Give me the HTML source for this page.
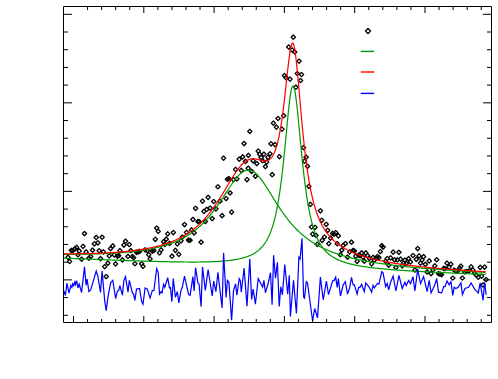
<!DOCTYPE html>
<html><head><meta charset="utf-8"><title>fit</title>
<style>html,body{margin:0;padding:0;background:#fff;font-family:"Liberation Sans",sans-serif;}svg{display:block}</style>
</head><body>
<svg width="498" height="379" viewBox="0 0 498 379">
<rect x="0" y="0" width="498" height="379" fill="#fff"/>
<defs><clipPath id="c"><rect x="63.5" y="6.5" width="428" height="316"/></clipPath></defs>
<g clip-path="url(#c)">
<path d="M70.65 250.64 l2.15 -2.15 l2.15 2.15 l-2.15 2.15 z M72.65 248.82 l2.15 -2.15 l2.15 2.15 l-2.15 2.15 z M74.45 247.40 l2.15 -2.15 l2.15 2.15 l-2.15 2.15 z M75.85 254.78 l2.15 -2.15 l2.15 2.15 l-2.15 2.15 z M77.05 250.96 l2.15 -2.15 l2.15 2.15 l-2.15 2.15 z M79.45 259.23 l2.15 -2.15 l2.15 2.15 l-2.15 2.15 z M80.90 246.40 l2.15 -2.15 l2.15 2.15 l-2.15 2.15 z M82.35 233.57 l2.15 -2.15 l2.15 2.15 l-2.15 2.15 z M83.95 251.94 l2.15 -2.15 l2.15 2.15 l-2.15 2.15 z M86.75 258.17 l2.15 -2.15 l2.15 2.15 l-2.15 2.15 z M88.55 256.52 l2.15 -2.15 l2.15 2.15 l-2.15 2.15 z M90.38 250.17 l2.15 -2.15 l2.15 2.15 l-2.15 2.15 z M92.22 243.81 l2.15 -2.15 l2.15 2.15 l-2.15 2.15 z M94.05 237.45 l2.15 -2.15 l2.15 2.15 l-2.15 2.15 z M95.75 242.79 l2.15 -2.15 l2.15 2.15 l-2.15 2.15 z M97.05 250.74 l2.15 -2.15 l2.15 2.15 l-2.15 2.15 z M98.35 258.68 l2.15 -2.15 l2.15 2.15 l-2.15 2.15 z M99.95 237.22 l2.15 -2.15 l2.15 2.15 l-2.15 2.15 z M101.25 251.91 l2.15 -2.15 l2.15 2.15 l-2.15 2.15 z M102.55 266.59 l2.15 -2.15 l2.15 2.15 l-2.15 2.15 z M104.05 276.52 l2.15 -2.15 l2.15 2.15 l-2.15 2.15 z M105.75 263.13 l2.15 -2.15 l2.15 2.15 l-2.15 2.15 z M107.10 255.85 l2.15 -2.15 l2.15 2.15 l-2.15 2.15 z M108.45 248.57 l2.15 -2.15 l2.15 2.15 l-2.15 2.15 z M110.65 245.93 l2.15 -2.15 l2.15 2.15 l-2.15 2.15 z M112.05 254.89 l2.15 -2.15 l2.15 2.15 l-2.15 2.15 z M113.45 263.84 l2.15 -2.15 l2.15 2.15 l-2.15 2.15 z M115.25 256.21 l2.15 -2.15 l2.15 2.15 l-2.15 2.15 z M116.55 255.71 l2.15 -2.15 l2.15 2.15 l-2.15 2.15 z M117.75 250.61 l2.15 -2.15 l2.15 2.15 l-2.15 2.15 z M120.25 259.90 l2.15 -2.15 l2.15 2.15 l-2.15 2.15 z M121.75 245.06 l2.15 -2.15 l2.15 2.15 l-2.15 2.15 z M123.35 241.21 l2.15 -2.15 l2.15 2.15 l-2.15 2.15 z M125.85 256.46 l2.15 -2.15 l2.15 2.15 l-2.15 2.15 z M127.15 244.52 l2.15 -2.15 l2.15 2.15 l-2.15 2.15 z M128.70 250.59 l2.15 -2.15 l2.15 2.15 l-2.15 2.15 z M130.25 256.66 l2.15 -2.15 l2.15 2.15 l-2.15 2.15 z M131.45 257.71 l2.15 -2.15 l2.15 2.15 l-2.15 2.15 z M132.75 263.75 l2.15 -2.15 l2.15 2.15 l-2.15 2.15 z M134.35 252.33 l2.15 -2.15 l2.15 2.15 l-2.15 2.15 z M135.90 251.82 l2.15 -2.15 l2.15 2.15 l-2.15 2.15 z M137.45 251.29 l2.15 -2.15 l2.15 2.15 l-2.15 2.15 z M139.45 263.78 l2.15 -2.15 l2.15 2.15 l-2.15 2.15 z M140.85 266.35 l2.15 -2.15 l2.15 2.15 l-2.15 2.15 z M142.95 249.79 l2.15 -2.15 l2.15 2.15 l-2.15 2.15 z M145.15 250.59 l2.15 -2.15 l2.15 2.15 l-2.15 2.15 z M146.55 254.72 l2.15 -2.15 l2.15 2.15 l-2.15 2.15 z M147.95 258.84 l2.15 -2.15 l2.15 2.15 l-2.15 2.15 z M150.15 251.07 l2.15 -2.15 l2.15 2.15 l-2.15 2.15 z M151.75 250.51 l2.15 -2.15 l2.15 2.15 l-2.15 2.15 z M153.15 239.29 l2.15 -2.15 l2.15 2.15 l-2.15 2.15 z M154.55 228.04 l2.15 -2.15 l2.15 2.15 l-2.15 2.15 z M156.05 231.36 l2.15 -2.15 l2.15 2.15 l-2.15 2.15 z M157.35 252.81 l2.15 -2.15 l2.15 2.15 l-2.15 2.15 z M158.95 249.87 l2.15 -2.15 l2.15 2.15 l-2.15 2.15 z M161.45 241.72 l2.15 -2.15 l2.15 2.15 l-2.15 2.15 z M162.65 244.45 l2.15 -2.15 l2.15 2.15 l-2.15 2.15 z M164.10 239.17 l2.15 -2.15 l2.15 2.15 l-2.15 2.15 z M165.55 233.88 l2.15 -2.15 l2.15 2.15 l-2.15 2.15 z M167.35 243.43 l2.15 -2.15 l2.15 2.15 l-2.15 2.15 z M169.75 256.21 l2.15 -2.15 l2.15 2.15 l-2.15 2.15 z M171.15 232.54 l2.15 -2.15 l2.15 2.15 l-2.15 2.15 z M173.25 250.34 l2.15 -2.15 l2.15 2.15 l-2.15 2.15 z M175.15 243.87 l2.15 -2.15 l2.15 2.15 l-2.15 2.15 z M176.65 254.34 l2.15 -2.15 l2.15 2.15 l-2.15 2.15 z M178.85 240.82 l2.15 -2.15 l2.15 2.15 l-2.15 2.15 z M180.15 237.02 l2.15 -2.15 l2.15 2.15 l-2.15 2.15 z M182.35 224.56 l2.15 -2.15 l2.15 2.15 l-2.15 2.15 z M184.35 232.34 l2.15 -2.15 l2.15 2.15 l-2.15 2.15 z M186.35 240.04 l2.15 -2.15 l2.15 2.15 l-2.15 2.15 z M187.95 240.24 l2.15 -2.15 l2.15 2.15 l-2.15 2.15 z M189.35 229.88 l2.15 -2.15 l2.15 2.15 l-2.15 2.15 z M190.75 219.47 l2.15 -2.15 l2.15 2.15 l-2.15 2.15 z M191.95 232.83 l2.15 -2.15 l2.15 2.15 l-2.15 2.15 z M193.45 208.30 l2.15 -2.15 l2.15 2.15 l-2.15 2.15 z M195.75 221.50 l2.15 -2.15 l2.15 2.15 l-2.15 2.15 z M196.95 221.69 l2.15 -2.15 l2.15 2.15 l-2.15 2.15 z M198.95 242.17 l2.15 -2.15 l2.15 2.15 l-2.15 2.15 z M200.35 201.15 l2.15 -2.15 l2.15 2.15 l-2.15 2.15 z M201.75 211.36 l2.15 -2.15 l2.15 2.15 l-2.15 2.15 z M203.15 221.52 l2.15 -2.15 l2.15 2.15 l-2.15 2.15 z M204.55 209.46 l2.15 -2.15 l2.15 2.15 l-2.15 2.15 z M205.95 197.34 l2.15 -2.15 l2.15 2.15 l-2.15 2.15 z M208.00 208.03 l2.15 -2.15 l2.15 2.15 l-2.15 2.15 z M210.05 218.57 l2.15 -2.15 l2.15 2.15 l-2.15 2.15 z M211.55 201.51 l2.15 -2.15 l2.15 2.15 l-2.15 2.15 z M213.75 208.94 l2.15 -2.15 l2.15 2.15 l-2.15 2.15 z M215.75 186.74 l2.15 -2.15 l2.15 2.15 l-2.15 2.15 z M217.85 201.26 l2.15 -2.15 l2.15 2.15 l-2.15 2.15 z M219.95 215.68 l2.15 -2.15 l2.15 2.15 l-2.15 2.15 z M221.45 158.11 l2.15 -2.15 l2.15 2.15 l-2.15 2.15 z M223.95 198.53 l2.15 -2.15 l2.15 2.15 l-2.15 2.15 z M225.25 179.24 l2.15 -2.15 l2.15 2.15 l-2.15 2.15 z M226.75 178.62 l2.15 -2.15 l2.15 2.15 l-2.15 2.15 z M227.95 192.92 l2.15 -2.15 l2.15 2.15 l-2.15 2.15 z M229.45 212.15 l2.15 -2.15 l2.15 2.15 l-2.15 2.15 z M231.35 179.70 l2.15 -2.15 l2.15 2.15 l-2.15 2.15 z M233.45 169.39 l2.15 -2.15 l2.15 2.15 l-2.15 2.15 z M234.75 178.91 l2.15 -2.15 l2.15 2.15 l-2.15 2.15 z M237.05 159.14 l2.15 -2.15 l2.15 2.15 l-2.15 2.15 z M239.15 170.37 l2.15 -2.15 l2.15 2.15 l-2.15 2.15 z M240.55 156.88 l2.15 -2.15 l2.15 2.15 l-2.15 2.15 z M241.95 143.57 l2.15 -2.15 l2.15 2.15 l-2.15 2.15 z M243.40 161.45 l2.15 -2.15 l2.15 2.15 l-2.15 2.15 z M244.85 179.55 l2.15 -2.15 l2.15 2.15 l-2.15 2.15 z M246.25 155.37 l2.15 -2.15 l2.15 2.15 l-2.15 2.15 z M247.65 131.37 l2.15 -2.15 l2.15 2.15 l-2.15 2.15 z M249.45 171.31 l2.15 -2.15 l2.15 2.15 l-2.15 2.15 z M250.95 160.81 l2.15 -2.15 l2.15 2.15 l-2.15 2.15 z M253.25 176.17 l2.15 -2.15 l2.15 2.15 l-2.15 2.15 z M254.65 163.57 l2.15 -2.15 l2.15 2.15 l-2.15 2.15 z M256.05 151.04 l2.15 -2.15 l2.15 2.15 l-2.15 2.15 z M257.52 154.28 l2.15 -2.15 l2.15 2.15 l-2.15 2.15 z M258.98 157.52 l2.15 -2.15 l2.15 2.15 l-2.15 2.15 z M260.45 160.71 l2.15 -2.15 l2.15 2.15 l-2.15 2.15 z M261.75 154.20 l2.15 -2.15 l2.15 2.15 l-2.15 2.15 z M263.25 166.66 l2.15 -2.15 l2.15 2.15 l-2.15 2.15 z M264.55 162.11 l2.15 -2.15 l2.15 2.15 l-2.15 2.15 z M265.85 157.31 l2.15 -2.15 l2.15 2.15 l-2.15 2.15 z M328.40 238.13 l2.15 -2.15 l2.15 2.15 l-2.15 2.15 z M330.45 233.40 l2.15 -2.15 l2.15 2.15 l-2.15 2.15 z M331.95 234.21 l2.15 -2.15 l2.15 2.15 l-2.15 2.15 z M333.55 232.51 l2.15 -2.15 l2.15 2.15 l-2.15 2.15 z M335.05 243.72 l2.15 -2.15 l2.15 2.15 l-2.15 2.15 z M336.25 235.84 l2.15 -2.15 l2.15 2.15 l-2.15 2.15 z M338.25 254.76 l2.15 -2.15 l2.15 2.15 l-2.15 2.15 z M339.65 250.08 l2.15 -2.15 l2.15 2.15 l-2.15 2.15 z M341.05 245.35 l2.15 -2.15 l2.15 2.15 l-2.15 2.15 z M343.25 243.53 l2.15 -2.15 l2.15 2.15 l-2.15 2.15 z M345.35 257.05 l2.15 -2.15 l2.15 2.15 l-2.15 2.15 z M347.45 251.90 l2.15 -2.15 l2.15 2.15 l-2.15 2.15 z M349.35 242.18 l2.15 -2.15 l2.15 2.15 l-2.15 2.15 z M350.95 250.37 l2.15 -2.15 l2.15 2.15 l-2.15 2.15 z M352.25 250.92 l2.15 -2.15 l2.15 2.15 l-2.15 2.15 z M353.60 256.11 l2.15 -2.15 l2.15 2.15 l-2.15 2.15 z M354.95 261.27 l2.15 -2.15 l2.15 2.15 l-2.15 2.15 z M356.55 255.06 l2.15 -2.15 l2.15 2.15 l-2.15 2.15 z M357.85 255.52 l2.15 -2.15 l2.15 2.15 l-2.15 2.15 z M359.45 252.95 l2.15 -2.15 l2.15 2.15 l-2.15 2.15 z M360.80 257.09 l2.15 -2.15 l2.15 2.15 l-2.15 2.15 z M362.15 261.21 l2.15 -2.15 l2.15 2.15 l-2.15 2.15 z M363.65 252.96 l2.15 -2.15 l2.15 2.15 l-2.15 2.15 z M365.40 255.67 l2.15 -2.15 l2.15 2.15 l-2.15 2.15 z M367.15 258.35 l2.15 -2.15 l2.15 2.15 l-2.15 2.15 z M369.45 263.85 l2.15 -2.15 l2.15 2.15 l-2.15 2.15 z M370.95 257.43 l2.15 -2.15 l2.15 2.15 l-2.15 2.15 z M372.15 260.22 l2.15 -2.15 l2.15 2.15 l-2.15 2.15 z M373.70 258.38 l2.15 -2.15 l2.15 2.15 l-2.15 2.15 z M375.25 256.53 l2.15 -2.15 l2.15 2.15 l-2.15 2.15 z M376.75 257.56 l2.15 -2.15 l2.15 2.15 l-2.15 2.15 z M378.20 251.62 l2.15 -2.15 l2.15 2.15 l-2.15 2.15 z M379.65 245.67 l2.15 -2.15 l2.15 2.15 l-2.15 2.15 z M380.95 247.03 l2.15 -2.15 l2.15 2.15 l-2.15 2.15 z M383.45 261.31 l2.15 -2.15 l2.15 2.15 l-2.15 2.15 z M385.05 258.51 l2.15 -2.15 l2.15 2.15 l-2.15 2.15 z M386.55 265.08 l2.15 -2.15 l2.15 2.15 l-2.15 2.15 z M388.45 257.91 l2.15 -2.15 l2.15 2.15 l-2.15 2.15 z M390.95 252.13 l2.15 -2.15 l2.15 2.15 l-2.15 2.15 z M392.35 259.81 l2.15 -2.15 l2.15 2.15 l-2.15 2.15 z M393.75 267.48 l2.15 -2.15 l2.15 2.15 l-2.15 2.15 z M395.25 259.91 l2.15 -2.15 l2.15 2.15 l-2.15 2.15 z M396.75 252.33 l2.15 -2.15 l2.15 2.15 l-2.15 2.15 z M398.40 259.12 l2.15 -2.15 l2.15 2.15 l-2.15 2.15 z M400.05 265.91 l2.15 -2.15 l2.15 2.15 l-2.15 2.15 z M401.40 263.00 l2.15 -2.15 l2.15 2.15 l-2.15 2.15 z M402.75 260.08 l2.15 -2.15 l2.15 2.15 l-2.15 2.15 z M404.05 263.35 l2.15 -2.15 l2.15 2.15 l-2.15 2.15 z M406.45 258.67 l2.15 -2.15 l2.15 2.15 l-2.15 2.15 z M408.35 262.01 l2.15 -2.15 l2.15 2.15 l-2.15 2.15 z M410.85 255.51 l2.15 -2.15 l2.15 2.15 l-2.15 2.15 z M412.75 270.03 l2.15 -2.15 l2.15 2.15 l-2.15 2.15 z M414.15 259.30 l2.15 -2.15 l2.15 2.15 l-2.15 2.15 z M415.55 248.56 l2.15 -2.15 l2.15 2.15 l-2.15 2.15 z M416.95 255.86 l2.15 -2.15 l2.15 2.15 l-2.15 2.15 z M418.35 263.16 l2.15 -2.15 l2.15 2.15 l-2.15 2.15 z M419.90 259.93 l2.15 -2.15 l2.15 2.15 l-2.15 2.15 z M421.45 256.69 l2.15 -2.15 l2.15 2.15 l-2.15 2.15 z M423.20 264.32 l2.15 -2.15 l2.15 2.15 l-2.15 2.15 z M424.95 271.95 l2.15 -2.15 l2.15 2.15 l-2.15 2.15 z M427.05 260.96 l2.15 -2.15 l2.15 2.15 l-2.15 2.15 z M428.95 273.64 l2.15 -2.15 l2.15 2.15 l-2.15 2.15 z M430.80 269.77 l2.15 -2.15 l2.15 2.15 l-2.15 2.15 z M432.65 265.89 l2.15 -2.15 l2.15 2.15 l-2.15 2.15 z M434.55 259.76 l2.15 -2.15 l2.15 2.15 l-2.15 2.15 z M436.35 273.62 l2.15 -2.15 l2.15 2.15 l-2.15 2.15 z M437.90 274.10 l2.15 -2.15 l2.15 2.15 l-2.15 2.15 z M439.45 274.59 l2.15 -2.15 l2.15 2.15 l-2.15 2.15 z M441.55 268.46 l2.15 -2.15 l2.15 2.15 l-2.15 2.15 z M442.85 268.57 l2.15 -2.15 l2.15 2.15 l-2.15 2.15 z M444.85 263.14 l2.15 -2.15 l2.15 2.15 l-2.15 2.15 z M446.95 267.10 l2.15 -2.15 l2.15 2.15 l-2.15 2.15 z M448.75 264.15 l2.15 -2.15 l2.15 2.15 l-2.15 2.15 z M450.65 277.99 l2.15 -2.15 l2.15 2.15 l-2.15 2.15 z M451.95 269.99 l2.15 -2.15 l2.15 2.15 l-2.15 2.15 z M453.75 271.33 l2.15 -2.15 l2.15 2.15 l-2.15 2.15 z M456.05 270.30 l2.15 -2.15 l2.15 2.15 l-2.15 2.15 z M457.40 268.19 l2.15 -2.15 l2.15 2.15 l-2.15 2.15 z M458.75 266.09 l2.15 -2.15 l2.15 2.15 l-2.15 2.15 z M460.25 278.00 l2.15 -2.15 l2.15 2.15 l-2.15 2.15 z M462.75 271.97 l2.15 -2.15 l2.15 2.15 l-2.15 2.15 z M464.60 271.50 l2.15 -2.15 l2.15 2.15 l-2.15 2.15 z M466.45 271.02 l2.15 -2.15 l2.15 2.15 l-2.15 2.15 z M468.95 266.79 l2.15 -2.15 l2.15 2.15 l-2.15 2.15 z M470.70 270.01 l2.15 -2.15 l2.15 2.15 l-2.15 2.15 z M472.45 273.22 l2.15 -2.15 l2.15 2.15 l-2.15 2.15 z M474.30 275.24 l2.15 -2.15 l2.15 2.15 l-2.15 2.15 z M476.15 277.25 l2.15 -2.15 l2.15 2.15 l-2.15 2.15 z M478.05 267.37 l2.15 -2.15 l2.15 2.15 l-2.15 2.15 z M479.50 276.16 l2.15 -2.15 l2.15 2.15 l-2.15 2.15 z M480.95 284.95 l2.15 -2.15 l2.15 2.15 l-2.15 2.15 z M482.45 267.04 l2.15 -2.15 l2.15 2.15 l-2.15 2.15 z M483.95 279.53 l2.15 -2.15 l2.15 2.15 l-2.15 2.15 z M291.15 37.20 l2.15 -2.15 l2.15 2.15 l-2.15 2.15 z M286.55 47.00 l2.15 -2.15 l2.15 2.15 l-2.15 2.15 z M289.95 50.00 l2.15 -2.15 l2.15 2.15 l-2.15 2.15 z M292.55 52.00 l2.15 -2.15 l2.15 2.15 l-2.15 2.15 z M296.95 61.10 l2.15 -2.15 l2.15 2.15 l-2.15 2.15 z M282.35 75.50 l2.15 -2.15 l2.15 2.15 l-2.15 2.15 z M283.85 77.70 l2.15 -2.15 l2.15 2.15 l-2.15 2.15 z M287.85 79.10 l2.15 -2.15 l2.15 2.15 l-2.15 2.15 z M295.15 73.50 l2.15 -2.15 l2.15 2.15 l-2.15 2.15 z M299.35 74.50 l2.15 -2.15 l2.15 2.15 l-2.15 2.15 z M298.35 80.50 l2.15 -2.15 l2.15 2.15 l-2.15 2.15 z M293.75 87.20 l2.15 -2.15 l2.15 2.15 l-2.15 2.15 z M281.55 115.70 l2.15 -2.15 l2.15 2.15 l-2.15 2.15 z M275.85 118.50 l2.15 -2.15 l2.15 2.15 l-2.15 2.15 z M271.25 123.10 l2.15 -2.15 l2.15 2.15 l-2.15 2.15 z M274.25 127.10 l2.15 -2.15 l2.15 2.15 l-2.15 2.15 z M279.85 129.10 l2.15 -2.15 l2.15 2.15 l-2.15 2.15 z M268.85 143.80 l2.15 -2.15 l2.15 2.15 l-2.15 2.15 z M272.85 144.60 l2.15 -2.15 l2.15 2.15 l-2.15 2.15 z M267.85 153.80 l2.15 -2.15 l2.15 2.15 l-2.15 2.15 z M277.25 156.60 l2.15 -2.15 l2.15 2.15 l-2.15 2.15 z M270.05 174.70 l2.15 -2.15 l2.15 2.15 l-2.15 2.15 z M301.35 147.60 l2.15 -2.15 l2.15 2.15 l-2.15 2.15 z M303.95 157.20 l2.15 -2.15 l2.15 2.15 l-2.15 2.15 z M302.35 161.20 l2.15 -2.15 l2.15 2.15 l-2.15 2.15 z M305.35 166.30 l2.15 -2.15 l2.15 2.15 l-2.15 2.15 z M306.75 186.40 l2.15 -2.15 l2.15 2.15 l-2.15 2.15 z M308.25 204.40 l2.15 -2.15 l2.15 2.15 l-2.15 2.15 z M318.25 210.80 l2.15 -2.15 l2.15 2.15 l-2.15 2.15 z M319.55 220.30 l2.15 -2.15 l2.15 2.15 l-2.15 2.15 z M324.05 224.30 l2.15 -2.15 l2.15 2.15 l-2.15 2.15 z M309.35 227.00 l2.15 -2.15 l2.15 2.15 l-2.15 2.15 z M312.95 227.40 l2.15 -2.15 l2.15 2.15 l-2.15 2.15 z M325.55 230.30 l2.15 -2.15 l2.15 2.15 l-2.15 2.15 z M310.45 234.10 l2.15 -2.15 l2.15 2.15 l-2.15 2.15 z M313.85 235.40 l2.15 -2.15 l2.15 2.15 l-2.15 2.15 z M322.25 237.00 l2.15 -2.15 l2.15 2.15 l-2.15 2.15 z M320.05 240.30 l2.15 -2.15 l2.15 2.15 l-2.15 2.15 z M326.65 243.60 l2.15 -2.15 l2.15 2.15 l-2.15 2.15 z M315.15 244.30 l2.15 -2.15 l2.15 2.15 l-2.15 2.15 z M65.85 257.30 l2.15 -2.15 l2.15 2.15 l-2.15 2.15 z M67.45 261.50 l2.15 -2.15 l2.15 2.15 l-2.15 2.15 z M69.15 250.40 l2.15 -2.15 l2.15 2.15 l-2.15 2.15 z M246.05 168.20 l2.15 -2.15 l2.15 2.15 l-2.15 2.15 z" fill="none" stroke="#000" stroke-width="1.3" stroke-linejoin="round"/>
<path d="M63.70 254.29 L64.20 254.29 L64.70 254.29 L65.20 254.30 L65.70 254.30 L66.20 254.30 L66.70 254.30 L67.20 254.30 L67.70 254.30 L68.20 254.30 L68.70 254.30 L69.20 254.30 L69.70 254.29 L70.20 254.29 L70.70 254.29 L71.20 254.29 L71.70 254.29 L72.20 254.29 L72.70 254.28 L73.20 254.28 L73.70 254.28 L74.20 254.28 L74.70 254.27 L75.20 254.27 L75.70 254.27 L76.20 254.26 L76.70 254.26 L77.20 254.26 L77.70 254.25 L78.20 254.25 L78.70 254.24 L79.20 254.24 L79.70 254.23 L80.20 254.23 L80.70 254.22 L81.20 254.22 L81.70 254.21 L82.20 254.20 L82.70 254.20 L83.20 254.19 L83.70 254.18 L84.20 254.17 L84.70 254.17 L85.20 254.16 L85.70 254.15 L86.20 254.14 L86.70 254.13 L87.20 254.12 L87.70 254.12 L88.20 254.11 L88.70 254.10 L89.20 254.09 L89.70 254.07 L90.20 254.06 L90.70 254.05 L91.20 254.04 L91.70 254.03 L92.20 254.02 L92.70 254.01 L93.20 253.99 L93.70 253.98 L94.20 253.97 L94.70 253.95 L95.20 253.94 L95.70 253.92 L96.20 253.91 L96.70 253.89 L97.20 253.88 L97.70 253.86 L98.20 253.85 L98.70 253.83 L99.20 253.81 L99.70 253.80 L100.20 253.78 L100.70 253.76 L101.20 253.74 L101.70 253.72 L102.20 253.71 L102.70 253.69 L103.20 253.67 L103.70 253.65 L104.20 253.62 L104.70 253.60 L105.20 253.58 L105.70 253.56 L106.20 253.54 L106.70 253.52 L107.20 253.49 L107.70 253.47 L108.20 253.44 L108.70 253.42 L109.20 253.39 L109.70 253.37 L110.20 253.34 L110.70 253.32 L111.20 253.29 L111.70 253.26 L112.20 253.23 L112.70 253.21 L113.20 253.18 L113.70 253.15 L114.20 253.12 L114.70 253.09 L115.20 253.05 L115.70 253.02 L116.20 252.99 L116.70 252.96 L117.20 252.92 L117.70 252.89 L118.20 252.86 L118.70 252.82 L119.20 252.79 L119.70 252.75 L120.20 252.71 L120.70 252.67 L121.20 252.64 L121.70 252.60 L122.20 252.56 L122.70 252.52 L123.20 252.48 L123.70 252.44 L124.20 252.39 L124.70 252.35 L125.20 252.31 L125.70 252.26 L126.20 252.22 L126.70 252.17 L127.20 252.13 L127.70 252.08 L128.20 252.03 L128.70 251.98 L129.20 251.93 L129.70 251.88 L130.20 251.83 L130.70 251.78 L131.20 251.73 L131.70 251.67 L132.20 251.62 L132.70 251.56 L133.20 251.51 L133.70 251.45 L134.20 251.39 L134.70 251.33 L135.20 251.27 L135.70 251.21 L136.20 251.15 L136.70 251.09 L137.20 251.03 L137.70 250.96 L138.20 250.90 L138.70 250.83 L139.20 250.76 L139.70 250.69 L140.20 250.62 L140.70 250.55 L141.20 250.48 L141.70 250.41 L142.20 250.33 L142.70 250.26 L143.20 250.18 L143.70 250.10 L144.20 250.03 L144.70 249.94 L145.20 249.86 L145.70 249.78 L146.20 249.70 L146.70 249.61 L147.20 249.53 L147.70 249.44 L148.20 249.35 L148.70 249.26 L149.20 249.17 L149.70 249.07 L150.20 248.98 L150.70 248.88 L151.20 248.78 L151.70 248.68 L152.20 248.58 L152.70 248.48 L153.20 248.38 L153.70 248.27 L154.20 248.17 L154.70 248.06 L155.20 247.95 L155.70 247.83 L156.20 247.72 L156.70 247.60 L157.20 247.49 L157.70 247.37 L158.20 247.25 L158.70 247.12 L159.20 247.00 L159.70 246.87 L160.20 246.74 L160.70 246.61 L161.20 246.48 L161.70 246.34 L162.20 246.21 L162.70 246.07 L163.20 245.93 L163.70 245.78 L164.20 245.64 L164.70 245.49 L165.20 245.34 L165.70 245.18 L166.20 245.03 L166.70 244.87 L167.20 244.71 L167.70 244.55 L168.20 244.38 L168.70 244.22 L169.20 244.05 L169.70 243.87 L170.20 243.70 L170.70 243.52 L171.20 243.34 L171.70 243.15 L172.20 242.96 L172.70 242.77 L173.20 242.58 L173.70 242.38 L174.20 242.19 L174.70 241.98 L175.20 241.78 L175.70 241.57 L176.20 241.36 L176.70 241.14 L177.20 240.92 L177.70 240.70 L178.20 240.47 L178.70 240.24 L179.20 240.01 L179.70 239.77 L180.20 239.53 L180.70 239.28 L181.20 239.03 L181.70 238.78 L182.20 238.52 L182.70 238.26 L183.20 238.00 L183.70 237.73 L184.20 237.45 L184.70 237.17 L185.20 236.89 L185.70 236.60 L186.20 236.31 L186.70 236.01 L187.20 235.71 L187.70 235.41 L188.20 235.09 L188.70 234.78 L189.20 234.46 L189.70 234.13 L190.20 233.80 L190.70 233.46 L191.20 233.12 L191.70 232.77 L192.20 232.42 L192.70 232.06 L193.20 231.69 L193.70 231.32 L194.20 230.94 L194.70 230.56 L195.20 230.17 L195.70 229.78 L196.20 229.38 L196.70 228.97 L197.20 228.56 L197.70 228.14 L198.20 227.71 L198.70 227.28 L199.20 226.84 L199.70 226.39 L200.20 225.94 L200.70 225.47 L201.20 225.01 L201.70 224.53 L202.20 224.05 L202.70 223.56 L203.20 223.06 L203.70 222.56 L204.20 222.05 L204.70 221.53 L205.20 221.01 L205.70 220.47 L206.20 219.93 L206.70 219.38 L207.20 218.83 L207.70 218.26 L208.20 217.69 L208.70 217.11 L209.20 216.52 L209.70 215.93 L210.20 215.33 L210.70 214.72 L211.20 214.10 L211.70 213.47 L212.20 212.84 L212.70 212.20 L213.20 211.55 L213.70 210.89 L214.20 210.23 L214.70 209.56 L215.20 208.88 L215.70 208.20 L216.20 207.51 L216.70 206.81 L217.20 206.10 L217.70 205.39 L218.20 204.67 L218.70 203.95 L219.20 203.22 L219.70 202.49 L220.20 201.75 L220.70 201.00 L221.20 200.25 L221.70 199.50 L222.20 198.74 L222.70 197.98 L223.20 197.22 L223.70 196.45 L224.20 195.69 L224.70 194.92 L225.20 194.14 L225.70 193.37 L226.20 192.60 L226.70 191.83 L227.20 191.06 L227.70 190.29 L228.20 189.52 L228.70 188.76 L229.20 188.00 L229.70 187.24 L230.20 186.49 L230.70 185.75 L231.20 185.01 L231.70 184.28 L232.20 183.56 L232.70 182.85 L233.20 182.15 L233.70 181.45 L234.20 180.78 L234.70 180.11 L235.20 179.46 L235.70 178.82 L236.20 178.19 L236.70 177.59 L237.20 177.00 L237.70 176.43 L238.20 175.88 L238.70 175.35 L239.20 174.83 L239.70 174.35 L240.20 173.88 L240.70 173.44 L241.20 173.02 L241.70 172.62 L242.20 172.25 L242.70 171.91 L243.20 171.60 L243.70 171.31 L244.20 171.05 L244.70 170.82 L245.20 170.62 L245.70 170.45 L246.20 170.30 L246.70 170.19 L247.20 170.11 L247.70 170.06 L248.20 170.04 L248.70 170.05 L249.20 170.09 L249.70 170.16 L250.20 170.27 L250.70 170.40 L251.20 170.56 L251.70 170.76 L252.20 170.98 L252.70 171.24 L253.20 171.52 L253.70 171.83 L254.20 172.17 L254.70 172.53 L255.20 172.93 L255.70 173.34 L256.20 173.79 L256.70 174.26 L257.20 174.75 L257.70 175.27 L258.20 175.80 L258.70 176.36 L259.20 176.94 L259.70 177.54 L260.20 178.16 L260.70 178.80 L261.20 179.45 L261.70 180.12 L262.20 180.80 L262.70 181.50 L263.20 182.21 L263.70 182.94 L264.20 183.67 L264.70 184.42 L265.20 185.17 L265.70 185.94 L266.20 186.71 L266.70 187.49 L267.20 188.28 L267.70 189.07 L268.20 189.87 L268.70 190.67 L269.20 191.47 L269.70 192.28 L270.20 193.09 L270.70 193.90 L271.20 194.71 L271.70 195.53 L272.20 196.34 L272.70 197.15 L273.20 197.96 L273.70 198.77 L274.20 199.57 L274.70 200.37 L275.20 201.17 L275.70 201.97 L276.20 202.76 L276.70 203.55 L277.20 204.33 L277.70 205.11 L278.20 205.88 L278.70 206.65 L279.20 207.41 L279.70 208.16 L280.20 208.91 L280.70 209.65 L281.20 210.39 L281.70 211.12 L282.20 211.84 L282.70 212.55 L283.20 213.26 L283.70 213.96 L284.20 214.65 L284.70 215.34 L285.20 216.02 L285.70 216.69 L286.20 217.35 L286.70 218.00 L287.20 218.65 L287.70 219.29 L288.20 219.92 L288.70 220.55 L289.20 221.16 L289.70 221.77 L290.20 222.37 L290.70 222.97 L291.20 223.55 L291.70 224.13 L292.20 224.70 L292.70 225.26 L293.20 225.82 L293.70 226.37 L294.20 226.91 L294.70 227.44 L295.20 227.97 L295.70 228.48 L296.20 229.00 L296.70 229.50 L297.20 230.00 L297.70 230.49 L298.20 230.97 L298.70 231.45 L299.20 231.92 L299.70 232.39 L300.20 232.84 L300.70 233.29 L301.20 233.74 L301.70 234.18 L302.20 234.61 L302.70 235.04 L303.20 235.46 L303.70 235.87 L304.20 236.28 L304.70 236.68 L305.20 237.08 L305.70 237.47 L306.20 237.86 L306.70 238.24 L307.20 238.61 L307.70 238.98 L308.20 239.35 L308.70 239.71 L309.20 240.06 L309.70 240.41 L310.20 240.75 L310.70 241.09 L311.20 241.43 L311.70 241.76 L312.20 242.08 L312.70 242.41 L313.20 242.72 L313.70 243.03 L314.20 243.34 L314.70 243.65 L315.20 243.95 L315.70 244.24 L316.20 244.53 L316.70 244.82 L317.20 245.10 L317.70 245.38 L318.20 245.66 L318.70 245.93 L319.20 246.20 L319.70 246.47 L320.20 246.73 L320.70 246.98 L321.20 247.24 L321.70 247.49 L322.20 247.74 L322.70 247.98 L323.20 248.22 L323.70 248.46 L324.20 248.70 L324.70 248.93 L325.20 249.16 L325.70 249.38 L326.20 249.61 L326.70 249.83 L327.20 250.05 L327.70 250.26 L328.20 250.47 L328.70 250.68 L329.20 250.89 L329.70 251.09 L330.20 251.29 L330.70 251.49 L331.20 251.69 L331.70 251.88 L332.20 252.08 L332.70 252.26 L333.20 252.45 L333.70 252.64 L334.20 252.82 L334.70 253.00 L335.20 253.18 L335.70 253.35 L336.20 253.53 L336.70 253.70 L337.20 253.87 L337.70 254.04 L338.20 254.20 L338.70 254.37 L339.20 254.53 L339.70 254.69 L340.20 254.85 L340.70 255.01 L341.20 255.16 L341.70 255.31 L342.20 255.47 L342.70 255.62 L343.20 255.76 L343.70 255.91 L344.20 256.06 L344.70 256.20 L345.20 256.34 L345.70 256.48 L346.20 256.62 L346.70 256.76 L347.20 256.89 L347.70 257.03 L348.20 257.16 L348.70 257.29 L349.20 257.42 L349.70 257.55 L350.20 257.68 L350.70 257.80 L351.20 257.93 L351.70 258.05 L352.20 258.17 L352.70 258.29 L353.20 258.41 L353.70 258.53 L354.20 258.65 L354.70 258.76 L355.20 258.88 L355.70 258.99 L356.20 259.10 L356.70 259.21 L357.20 259.33 L357.70 259.43 L358.20 259.54 L358.70 259.65 L359.20 259.76 L359.70 259.86 L360.20 259.97 L360.70 260.07 L361.20 260.17 L361.70 260.27 L362.20 260.37 L362.70 260.47 L363.20 260.57 L363.70 260.67 L364.20 260.76 L364.70 260.86 L365.20 260.95 L365.70 261.05 L366.20 261.14 L366.70 261.23 L367.20 261.32 L367.70 261.42 L368.20 261.51 L368.70 261.59 L369.20 261.68 L369.70 261.77 L370.20 261.86 L370.70 261.94 L371.20 262.03 L371.70 262.11 L372.20 262.20 L372.70 262.28 L373.20 262.36 L373.70 262.44 L374.20 262.53 L374.70 262.61 L375.20 262.69 L375.70 262.76 L376.20 262.84 L376.70 262.92 L377.20 263.00 L377.70 263.08 L378.20 263.15 L378.70 263.23 L379.20 263.30 L379.70 263.38 L380.20 263.45 L380.70 263.52 L381.20 263.59 L381.70 263.67 L382.20 263.74 L382.70 263.81 L383.20 263.88 L383.70 263.95 L384.20 264.02 L384.70 264.09 L385.20 264.16 L385.70 264.22 L386.20 264.29 L386.70 264.36 L387.20 264.42 L387.70 264.49 L388.20 264.55 L388.70 264.62 L389.20 264.68 L389.70 264.75 L390.20 264.81 L390.70 264.87 L391.20 264.94 L391.70 265.00 L392.20 265.06 L392.70 265.12 L393.20 265.18 L393.70 265.24 L394.20 265.30 L394.70 265.36 L395.20 265.42 L395.70 265.48 L396.20 265.54 L396.70 265.60 L397.20 265.66 L397.70 265.71 L398.20 265.77 L398.70 265.83 L399.20 265.88 L399.70 265.94 L400.20 265.99 L400.70 266.05 L401.20 266.10 L401.70 266.16 L402.20 266.21 L402.70 266.27 L403.20 266.32 L403.70 266.37 L404.20 266.43 L404.70 266.48 L405.20 266.53 L405.70 266.58 L406.20 266.63 L406.70 266.68 L407.20 266.74 L407.70 266.79 L408.20 266.84 L408.70 266.89 L409.20 266.94 L409.70 266.99 L410.20 267.04 L410.70 267.08 L411.20 267.13 L411.70 267.18 L412.20 267.23 L412.70 267.28 L413.20 267.32 L413.70 267.37 L414.20 267.42 L414.70 267.47 L415.20 267.51 L415.70 267.56 L416.20 267.60 L416.70 267.65 L417.20 267.70 L417.70 267.74 L418.20 267.79 L418.70 267.83 L419.20 267.88 L419.70 267.92 L420.20 267.96 L420.70 268.01 L421.20 268.05 L421.70 268.09 L422.20 268.14 L422.70 268.18 L423.20 268.22 L423.70 268.27 L424.20 268.31 L424.70 268.35 L425.20 268.39 L425.70 268.43 L426.20 268.48 L426.70 268.52 L427.20 268.56 L427.70 268.60 L428.20 268.64 L428.70 268.68 L429.20 268.72 L429.70 268.76 L430.20 268.80 L430.70 268.84 L431.20 268.88 L431.70 268.92 L432.20 268.96 L432.70 269.00 L433.20 269.04 L433.70 269.08 L434.20 269.11 L434.70 269.15 L435.20 269.19 L435.70 269.23 L436.20 269.27 L436.70 269.30 L437.20 269.34 L437.70 269.38 L438.20 269.42 L438.70 269.45 L439.20 269.49 L439.70 269.53 L440.20 269.56 L440.70 269.60 L441.20 269.64 L441.70 269.67 L442.20 269.71 L442.70 269.74 L443.20 269.78 L443.70 269.82 L444.20 269.85 L444.70 269.89 L445.20 269.92 L445.70 269.96 L446.20 269.99 L446.70 270.03 L447.20 270.06 L447.70 270.10 L448.20 270.13 L448.70 270.16 L449.20 270.20 L449.70 270.23 L450.20 270.27 L450.70 270.30 L451.20 270.33 L451.70 270.37 L452.20 270.40 L452.70 270.43 L453.20 270.47 L453.70 270.50 L454.20 270.53 L454.70 270.56 L455.20 270.60 L455.70 270.63 L456.20 270.66 L456.70 270.69 L457.20 270.72 L457.70 270.76 L458.20 270.79 L458.70 270.82 L459.20 270.85 L459.70 270.88 L460.20 270.91 L460.70 270.95 L461.20 270.98 L461.70 271.01 L462.20 271.04 L462.70 271.07 L463.20 271.10 L463.70 271.13 L464.20 271.16 L464.70 271.19 L465.20 271.22 L465.70 271.25 L466.20 271.28 L466.70 271.31 L467.20 271.34 L467.70 271.37 L468.20 271.40 L468.70 271.43 L469.20 271.46 L469.70 271.49 L470.20 271.52 L470.70 271.55 L471.20 271.58 L471.70 271.61 L472.20 271.64 L472.70 271.67 L473.20 271.69 L473.70 271.72 L474.20 271.75 L474.70 271.78 L475.20 271.81 L475.70 271.84 L476.20 271.87 L476.70 271.89 L477.20 271.92 L477.70 271.95 L478.20 271.98 L478.70 272.01 L479.20 272.03 L479.70 272.06 L480.20 272.09 L480.70 272.12 L481.20 272.14 L481.70 272.17 L482.20 272.20 L482.70 272.23 L483.20 272.25 L483.70 272.28 L484.20 272.31 L484.70 272.33 L485.20 272.36 L485.70 272.39" fill="none" stroke="#009a00" stroke-width="1.22"/>
<path d="M63.70 258.09 L64.20 258.11 L64.70 258.13 L65.20 258.15 L65.70 258.17 L66.20 258.19 L66.70 258.21 L67.20 258.24 L67.70 258.26 L68.20 258.28 L68.70 258.30 L69.20 258.32 L69.70 258.34 L70.20 258.36 L70.70 258.38 L71.20 258.40 L71.70 258.42 L72.20 258.45 L72.70 258.47 L73.20 258.49 L73.70 258.51 L74.20 258.53 L74.70 258.55 L75.20 258.57 L75.70 258.59 L76.20 258.61 L76.70 258.63 L77.20 258.65 L77.70 258.67 L78.20 258.69 L78.70 258.71 L79.20 258.74 L79.70 258.76 L80.20 258.78 L80.70 258.80 L81.20 258.82 L81.70 258.84 L82.20 258.86 L82.70 258.88 L83.20 258.90 L83.70 258.92 L84.20 258.94 L84.70 258.96 L85.20 258.98 L85.70 259.00 L86.20 259.02 L86.70 259.04 L87.20 259.06 L87.70 259.08 L88.20 259.10 L88.70 259.12 L89.20 259.14 L89.70 259.16 L90.20 259.18 L90.70 259.20 L91.20 259.22 L91.70 259.24 L92.20 259.26 L92.70 259.28 L93.20 259.30 L93.70 259.32 L94.20 259.34 L94.70 259.36 L95.20 259.38 L95.70 259.40 L96.20 259.42 L96.70 259.44 L97.20 259.46 L97.70 259.48 L98.20 259.50 L98.70 259.52 L99.20 259.54 L99.70 259.56 L100.20 259.57 L100.70 259.59 L101.20 259.61 L101.70 259.63 L102.20 259.65 L102.70 259.67 L103.20 259.69 L103.70 259.71 L104.20 259.73 L104.70 259.75 L105.20 259.77 L105.70 259.79 L106.20 259.81 L106.70 259.82 L107.20 259.84 L107.70 259.86 L108.20 259.88 L108.70 259.90 L109.20 259.92 L109.70 259.94 L110.20 259.96 L110.70 259.97 L111.20 259.99 L111.70 260.01 L112.20 260.03 L112.70 260.05 L113.20 260.07 L113.70 260.09 L114.20 260.10 L114.70 260.12 L115.20 260.14 L115.70 260.16 L116.20 260.18 L116.70 260.20 L117.20 260.21 L117.70 260.23 L118.20 260.25 L118.70 260.27 L119.20 260.29 L119.70 260.30 L120.20 260.32 L120.70 260.34 L121.20 260.36 L121.70 260.38 L122.20 260.39 L122.70 260.41 L123.20 260.43 L123.70 260.45 L124.20 260.46 L124.70 260.48 L125.20 260.50 L125.70 260.52 L126.20 260.53 L126.70 260.55 L127.20 260.57 L127.70 260.59 L128.20 260.60 L128.70 260.62 L129.20 260.64 L129.70 260.65 L130.20 260.67 L130.70 260.69 L131.20 260.70 L131.70 260.72 L132.20 260.74 L132.70 260.75 L133.20 260.77 L133.70 260.79 L134.20 260.80 L134.70 260.82 L135.20 260.84 L135.70 260.85 L136.20 260.87 L136.70 260.89 L137.20 260.90 L137.70 260.92 L138.20 260.93 L138.70 260.95 L139.20 260.97 L139.70 260.98 L140.20 261.00 L140.70 261.01 L141.20 261.03 L141.70 261.04 L142.20 261.06 L142.70 261.08 L143.20 261.09 L143.70 261.11 L144.20 261.12 L144.70 261.14 L145.20 261.15 L145.70 261.17 L146.20 261.18 L146.70 261.20 L147.20 261.21 L147.70 261.23 L148.20 261.24 L148.70 261.25 L149.20 261.27 L149.70 261.28 L150.20 261.30 L150.70 261.31 L151.20 261.33 L151.70 261.34 L152.20 261.35 L152.70 261.37 L153.20 261.38 L153.70 261.39 L154.20 261.41 L154.70 261.42 L155.20 261.44 L155.70 261.45 L156.20 261.46 L156.70 261.47 L157.20 261.49 L157.70 261.50 L158.20 261.51 L158.70 261.53 L159.20 261.54 L159.70 261.55 L160.20 261.56 L160.70 261.58 L161.20 261.59 L161.70 261.60 L162.20 261.61 L162.70 261.62 L163.20 261.63 L163.70 261.65 L164.20 261.66 L164.70 261.67 L165.20 261.68 L165.70 261.69 L166.20 261.70 L166.70 261.71 L167.20 261.72 L167.70 261.73 L168.20 261.74 L168.70 261.75 L169.20 261.76 L169.70 261.77 L170.20 261.78 L170.70 261.79 L171.20 261.80 L171.70 261.81 L172.20 261.82 L172.70 261.83 L173.20 261.84 L173.70 261.85 L174.20 261.86 L174.70 261.87 L175.20 261.87 L175.70 261.88 L176.20 261.89 L176.70 261.90 L177.20 261.90 L177.70 261.91 L178.20 261.92 L178.70 261.93 L179.20 261.93 L179.70 261.94 L180.20 261.95 L180.70 261.95 L181.20 261.96 L181.70 261.96 L182.20 261.97 L182.70 261.97 L183.20 261.98 L183.70 261.98 L184.20 261.99 L184.70 261.99 L185.20 262.00 L185.70 262.00 L186.20 262.01 L186.70 262.01 L187.20 262.01 L187.70 262.01 L188.20 262.02 L188.70 262.02 L189.20 262.02 L189.70 262.02 L190.20 262.02 L190.70 262.03 L191.20 262.03 L191.70 262.03 L192.20 262.03 L192.70 262.03 L193.20 262.03 L193.70 262.03 L194.20 262.03 L194.70 262.03 L195.20 262.02 L195.70 262.02 L196.20 262.02 L196.70 262.02 L197.20 262.01 L197.70 262.01 L198.20 262.01 L198.70 262.00 L199.20 262.00 L199.70 261.99 L200.20 261.99 L200.70 261.98 L201.20 261.97 L201.70 261.97 L202.20 261.96 L202.70 261.95 L203.20 261.95 L203.70 261.94 L204.20 261.93 L204.70 261.92 L205.20 261.91 L205.70 261.90 L206.20 261.89 L206.70 261.87 L207.20 261.86 L207.70 261.85 L208.20 261.84 L208.70 261.82 L209.20 261.81 L209.70 261.79 L210.20 261.78 L210.70 261.76 L211.20 261.74 L211.70 261.72 L212.20 261.70 L212.70 261.69 L213.20 261.66 L213.70 261.64 L214.20 261.62 L214.70 261.60 L215.20 261.58 L215.70 261.55 L216.20 261.53 L216.70 261.50 L217.20 261.47 L217.70 261.45 L218.20 261.42 L218.70 261.39 L219.20 261.36 L219.70 261.33 L220.20 261.29 L220.70 261.26 L221.20 261.22 L221.70 261.19 L222.20 261.15 L222.70 261.11 L223.20 261.07 L223.70 261.03 L224.20 260.99 L224.70 260.95 L225.20 260.90 L225.70 260.85 L226.20 260.81 L226.70 260.76 L227.20 260.71 L227.70 260.65 L228.20 260.60 L228.70 260.54 L229.20 260.49 L229.70 260.43 L230.20 260.37 L230.70 260.30 L231.20 260.24 L231.70 260.17 L232.20 260.10 L232.70 260.03 L233.20 259.96 L233.70 259.88 L234.20 259.80 L234.70 259.72 L235.20 259.64 L235.70 259.55 L236.20 259.47 L236.70 259.37 L237.20 259.28 L237.70 259.18 L238.20 259.08 L238.70 258.98 L239.20 258.87 L239.70 258.76 L240.20 258.65 L240.70 258.53 L241.20 258.41 L241.70 258.29 L242.20 258.16 L242.70 258.03 L243.20 257.89 L243.70 257.75 L244.20 257.60 L244.70 257.45 L245.20 257.30 L245.70 257.13 L246.20 256.97 L246.70 256.79 L247.20 256.62 L247.70 256.43 L248.20 256.24 L248.70 256.04 L249.20 255.84 L249.70 255.63 L250.20 255.41 L250.70 255.18 L251.20 254.95 L251.70 254.70 L252.20 254.45 L252.70 254.19 L253.20 253.92 L253.70 253.64 L254.20 253.35 L254.70 253.04 L255.20 252.73 L255.70 252.40 L256.20 252.06 L256.70 251.71 L257.20 251.34 L257.70 250.96 L258.20 250.56 L258.70 250.15 L259.20 249.72 L259.70 249.27 L260.20 248.80 L260.70 248.31 L261.20 247.80 L261.70 247.27 L262.20 246.71 L262.70 246.13 L263.20 245.52 L263.70 244.89 L264.20 244.22 L264.70 243.52 L265.20 242.79 L265.70 242.02 L266.20 241.22 L266.70 240.38 L267.20 239.49 L267.70 238.56 L268.20 237.58 L268.70 236.55 L269.20 235.46 L269.70 234.32 L270.20 233.12 L270.70 231.85 L271.20 230.51 L271.70 229.10 L272.20 227.62 L272.70 226.05 L273.20 224.39 L273.70 222.64 L274.20 220.80 L274.70 218.85 L275.20 216.79 L275.70 214.62 L276.20 212.33 L276.70 209.91 L277.20 207.36 L277.70 204.67 L278.20 201.83 L278.70 198.84 L279.20 195.70 L279.70 192.38 L280.20 188.91 L280.70 185.26 L281.20 181.43 L281.70 177.42 L282.20 173.24 L282.70 168.89 L283.20 164.36 L283.70 159.67 L284.20 154.82 L284.70 149.84 L285.20 144.75 L285.70 139.57 L286.20 134.32 L286.70 129.06 L287.20 123.83 L287.70 118.68 L288.20 113.66 L288.70 108.85 L289.20 104.32 L289.70 100.12 L290.20 96.35 L290.70 93.07 L291.20 90.34 L291.70 88.22 L292.20 86.77 L292.70 86.00 L293.20 85.95 L293.70 86.61 L294.20 87.97 L294.70 90.00 L295.20 92.64 L295.70 95.86 L296.20 99.58 L296.70 103.73 L297.20 108.24 L297.70 113.04 L298.20 118.06 L298.70 123.23 L299.20 128.49 L299.70 133.79 L300.20 139.07 L300.70 144.31 L301.20 149.47 L301.70 154.51 L302.20 159.42 L302.70 164.18 L303.20 168.78 L303.70 173.21 L304.20 177.46 L304.70 181.54 L305.20 185.44 L305.70 189.17 L306.20 192.72 L306.70 196.10 L307.20 199.32 L307.70 202.38 L308.20 205.28 L308.70 208.04 L309.20 210.66 L309.70 213.14 L310.20 215.50 L310.70 217.73 L311.20 219.85 L311.70 221.86 L312.20 223.76 L312.70 225.57 L313.20 227.28 L313.70 228.90 L314.20 230.44 L314.70 231.91 L315.20 233.30 L315.70 234.62 L316.20 235.87 L316.70 237.06 L317.20 238.20 L317.70 239.28 L318.20 240.31 L318.70 241.29 L319.20 242.22 L319.70 243.11 L320.20 243.96 L320.70 244.77 L321.20 245.55 L321.70 246.29 L322.20 247.00 L322.70 247.68 L323.20 248.33 L323.70 248.96 L324.20 249.56 L324.70 250.13 L325.20 250.69 L325.70 251.22 L326.20 251.73 L326.70 252.22 L327.20 252.69 L327.70 253.15 L328.20 253.59 L328.70 254.01 L329.20 254.42 L329.70 254.82 L330.20 255.20 L330.70 255.56 L331.20 255.92 L331.70 256.26 L332.20 256.60 L332.70 256.92 L333.20 257.23 L333.70 257.53 L334.20 257.82 L334.70 258.11 L335.20 258.38 L335.70 258.65 L336.20 258.91 L336.70 259.16 L337.20 259.41 L337.70 259.64 L338.20 259.87 L338.70 260.10 L339.20 260.32 L339.70 260.53 L340.20 260.73 L340.70 260.93 L341.20 261.13 L341.70 261.32 L342.20 261.51 L342.70 261.69 L343.20 261.86 L343.70 262.04 L344.20 262.20 L344.70 262.37 L345.20 262.53 L345.70 262.68 L346.20 262.84 L346.70 262.99 L347.20 263.13 L347.70 263.27 L348.20 263.41 L348.70 263.55 L349.20 263.68 L349.70 263.81 L350.20 263.94 L350.70 264.06 L351.20 264.18 L351.70 264.30 L352.20 264.42 L352.70 264.54 L353.20 264.65 L353.70 264.76 L354.20 264.87 L354.70 264.97 L355.20 265.08 L355.70 265.18 L356.20 265.28 L356.70 265.38 L357.20 265.47 L357.70 265.57 L358.20 265.66 L358.70 265.75 L359.20 265.84 L359.70 265.93 L360.20 266.02 L360.70 266.10 L361.20 266.19 L361.70 266.27 L362.20 266.35 L362.70 266.43 L363.20 266.51 L363.70 266.58 L364.20 266.66 L364.70 266.74 L365.20 266.81 L365.70 266.88 L366.20 266.95 L366.70 267.02 L367.20 267.09 L367.70 267.16 L368.20 267.23 L368.70 267.29 L369.20 267.36 L369.70 267.42 L370.20 267.49 L370.70 267.55 L371.20 267.61 L371.70 267.67 L372.20 267.73 L372.70 267.79 L373.20 267.85 L373.70 267.91 L374.20 267.97 L374.70 268.03 L375.20 268.08 L375.70 268.14 L376.20 268.19 L376.70 268.24 L377.20 268.30 L377.70 268.35 L378.20 268.40 L378.70 268.45 L379.20 268.51 L379.70 268.56 L380.20 268.61 L380.70 268.65 L381.20 268.70 L381.70 268.75 L382.20 268.80 L382.70 268.85 L383.20 268.89 L383.70 268.94 L384.20 268.99 L384.70 269.03 L385.20 269.08 L385.70 269.12 L386.20 269.16 L386.70 269.21 L387.20 269.25 L387.70 269.29 L388.20 269.34 L388.70 269.38 L389.20 269.42 L389.70 269.46 L390.20 269.50 L390.70 269.54 L391.20 269.58 L391.70 269.62 L392.20 269.66 L392.70 269.70 L393.20 269.74 L393.70 269.78 L394.20 269.82 L394.70 269.85 L395.20 269.89 L395.70 269.93 L396.20 269.97 L396.70 270.00 L397.20 270.04 L397.70 270.08 L398.20 270.11 L398.70 270.15 L399.20 270.18 L399.70 270.22 L400.20 270.25 L400.70 270.29 L401.20 270.32 L401.70 270.36 L402.20 270.39 L402.70 270.42 L403.20 270.46 L403.70 270.49 L404.20 270.52 L404.70 270.56 L405.20 270.59 L405.70 270.62 L406.20 270.65 L406.70 270.68 L407.20 270.72 L407.70 270.75 L408.20 270.78 L408.70 270.81 L409.20 270.84 L409.70 270.87 L410.20 270.90 L410.70 270.93 L411.20 270.96 L411.70 270.99 L412.20 271.02 L412.70 271.05 L413.20 271.08 L413.70 271.11 L414.20 271.14 L414.70 271.17 L415.20 271.20 L415.70 271.23 L416.20 271.26 L416.70 271.29 L417.20 271.31 L417.70 271.34 L418.20 271.37 L418.70 271.40 L419.20 271.43 L419.70 271.45 L420.20 271.48 L420.70 271.51 L421.20 271.54 L421.70 271.56 L422.20 271.59 L422.70 271.62 L423.20 271.65 L423.70 271.67 L424.20 271.70 L424.70 271.73 L425.20 271.75 L425.70 271.78 L426.20 271.80 L426.70 271.83 L427.20 271.86 L427.70 271.88 L428.20 271.91 L428.70 271.93 L429.20 271.96 L429.70 271.98 L430.20 272.01 L430.70 272.03 L431.20 272.06 L431.70 272.09 L432.20 272.11 L432.70 272.13 L433.20 272.16 L433.70 272.18 L434.20 272.21 L434.70 272.23 L435.20 272.26 L435.70 272.28 L436.20 272.31 L436.70 272.33 L437.20 272.35 L437.70 272.38 L438.20 272.40 L438.70 272.43 L439.20 272.45 L439.70 272.47 L440.20 272.50 L440.70 272.52 L441.20 272.54 L441.70 272.57 L442.20 272.59 L442.70 272.61 L443.20 272.64 L443.70 272.66 L444.20 272.68 L444.70 272.71 L445.20 272.73 L445.70 272.75 L446.20 272.77 L446.70 272.80 L447.20 272.82 L447.70 272.84 L448.20 272.87 L448.70 272.89 L449.20 272.91 L449.70 272.93 L450.20 272.95 L450.70 272.98 L451.20 273.00 L451.70 273.02 L452.20 273.04 L452.70 273.06 L453.20 273.09 L453.70 273.11 L454.20 273.13 L454.70 273.15 L455.20 273.17 L455.70 273.20 L456.20 273.22 L456.70 273.24 L457.20 273.26 L457.70 273.28 L458.20 273.30 L458.70 273.32 L459.20 273.34 L459.70 273.37 L460.20 273.39 L460.70 273.41 L461.20 273.43 L461.70 273.45 L462.20 273.47 L462.70 273.49 L463.20 273.51 L463.70 273.53 L464.20 273.55 L464.70 273.58 L465.20 273.60 L465.70 273.62 L466.20 273.64 L466.70 273.66 L467.20 273.68 L467.70 273.70 L468.20 273.72 L468.70 273.74 L469.20 273.76 L469.70 273.78 L470.20 273.80 L470.70 273.82 L471.20 273.84 L471.70 273.86 L472.20 273.88 L472.70 273.90 L473.20 273.92 L473.70 273.94 L474.20 273.96 L474.70 273.98 L475.20 274.00 L475.70 274.02 L476.20 274.04 L476.70 274.06 L477.20 274.08 L477.70 274.10 L478.20 274.12 L478.70 274.14 L479.20 274.16 L479.70 274.18 L480.20 274.20 L480.70 274.22 L481.20 274.24 L481.70 274.25 L482.20 274.27 L482.70 274.29 L483.20 274.31 L483.70 274.33 L484.20 274.35 L484.70 274.37 L485.20 274.39 L485.70 274.41" fill="none" stroke="#009a00" stroke-width="1.22"/>
<path d="M63.70 253.88 L64.20 253.88 L64.70 253.88 L65.20 253.88 L65.70 253.88 L66.20 253.88 L66.70 253.87 L67.20 253.87 L67.70 253.87 L68.20 253.87 L68.70 253.87 L69.20 253.86 L69.70 253.86 L70.20 253.86 L70.70 253.85 L71.20 253.85 L71.70 253.85 L72.20 253.84 L72.70 253.84 L73.20 253.83 L73.70 253.83 L74.20 253.82 L74.70 253.82 L75.20 253.81 L75.70 253.81 L76.20 253.80 L76.70 253.80 L77.20 253.79 L77.70 253.78 L78.20 253.78 L78.70 253.77 L79.20 253.76 L79.70 253.76 L80.20 253.75 L80.70 253.74 L81.20 253.73 L81.70 253.72 L82.20 253.72 L82.70 253.71 L83.20 253.70 L83.70 253.69 L84.20 253.68 L84.70 253.67 L85.20 253.66 L85.70 253.65 L86.20 253.64 L86.70 253.62 L87.20 253.61 L87.70 253.60 L88.20 253.59 L88.70 253.58 L89.20 253.56 L89.70 253.55 L90.20 253.54 L90.70 253.52 L91.20 253.51 L91.70 253.50 L92.20 253.48 L92.70 253.47 L93.20 253.45 L93.70 253.43 L94.20 253.42 L94.70 253.40 L95.20 253.38 L95.70 253.37 L96.20 253.35 L96.70 253.33 L97.20 253.31 L97.70 253.30 L98.20 253.28 L98.70 253.26 L99.20 253.24 L99.70 253.22 L100.20 253.20 L100.70 253.18 L101.20 253.15 L101.70 253.13 L102.20 253.11 L102.70 253.09 L103.20 253.06 L103.70 253.04 L104.20 253.02 L104.70 252.99 L105.20 252.97 L105.70 252.94 L106.20 252.92 L106.70 252.89 L107.20 252.86 L107.70 252.84 L108.20 252.81 L108.70 252.78 L109.20 252.75 L109.70 252.72 L110.20 252.69 L110.70 252.66 L111.20 252.63 L111.70 252.60 L112.20 252.57 L112.70 252.54 L113.20 252.51 L113.70 252.47 L114.20 252.44 L114.70 252.41 L115.20 252.37 L115.70 252.33 L116.20 252.30 L116.70 252.26 L117.20 252.22 L117.70 252.19 L118.20 252.15 L118.70 252.11 L119.20 252.07 L119.70 252.03 L120.20 251.99 L120.70 251.95 L121.20 251.90 L121.70 251.86 L122.20 251.82 L122.70 251.77 L123.20 251.73 L123.70 251.68 L124.20 251.63 L124.70 251.59 L125.20 251.54 L125.70 251.49 L126.20 251.44 L126.70 251.39 L127.20 251.34 L127.70 251.29 L128.20 251.24 L128.70 251.18 L129.20 251.13 L129.70 251.07 L130.20 251.02 L130.70 250.96 L131.20 250.90 L131.70 250.84 L132.20 250.78 L132.70 250.72 L133.20 250.66 L133.70 250.60 L134.20 250.54 L134.70 250.47 L135.20 250.41 L135.70 250.34 L136.20 250.27 L136.70 250.20 L137.20 250.14 L137.70 250.07 L138.20 249.99 L138.70 249.92 L139.20 249.85 L139.70 249.77 L140.20 249.70 L140.70 249.62 L141.20 249.54 L141.70 249.46 L142.20 249.38 L142.70 249.30 L143.20 249.22 L143.70 249.13 L144.20 249.05 L144.70 248.96 L145.20 248.87 L145.70 248.79 L146.20 248.69 L146.70 248.60 L147.20 248.51 L147.70 248.41 L148.20 248.32 L148.70 248.22 L149.20 248.12 L149.70 248.02 L150.20 247.92 L150.70 247.82 L151.20 247.71 L151.70 247.60 L152.20 247.50 L152.70 247.39 L153.20 247.27 L153.70 247.16 L154.20 247.04 L154.70 246.93 L155.20 246.81 L155.70 246.69 L156.20 246.57 L156.70 246.44 L157.20 246.32 L157.70 246.19 L158.20 246.06 L158.70 245.93 L159.20 245.79 L159.70 245.66 L160.20 245.52 L160.70 245.38 L161.20 245.24 L161.70 245.09 L162.20 244.95 L162.70 244.80 L163.20 244.65 L163.70 244.49 L164.20 244.34 L164.70 244.18 L165.20 244.02 L165.70 243.85 L166.20 243.69 L166.70 243.52 L167.20 243.35 L167.70 243.18 L168.20 243.00 L168.70 242.82 L169.20 242.64 L169.70 242.46 L170.20 242.27 L170.70 242.08 L171.20 241.88 L171.70 241.69 L172.20 241.49 L172.70 241.29 L173.20 241.08 L173.70 240.87 L174.20 240.66 L174.70 240.44 L175.20 240.23 L175.70 240.00 L176.20 239.78 L176.70 239.55 L177.20 239.31 L177.70 239.08 L178.20 238.84 L178.70 238.59 L179.20 238.35 L179.70 238.09 L180.20 237.84 L180.70 237.58 L181.20 237.31 L181.70 237.04 L182.20 236.77 L182.70 236.49 L183.20 236.21 L183.70 235.93 L184.20 235.64 L184.70 235.34 L185.20 235.04 L185.70 234.74 L186.20 234.43 L186.70 234.11 L187.20 233.79 L187.70 233.47 L188.20 233.14 L188.70 232.80 L189.20 232.46 L189.70 232.12 L190.20 231.77 L190.70 231.41 L191.20 231.05 L191.70 230.68 L192.20 230.30 L192.70 229.92 L193.20 229.54 L193.70 229.15 L194.20 228.75 L194.70 228.34 L195.20 227.93 L195.70 227.51 L196.20 227.09 L196.70 226.66 L197.20 226.22 L197.70 225.78 L198.20 225.33 L198.70 224.87 L199.20 224.40 L199.70 223.93 L200.20 223.45 L200.70 222.96 L201.20 222.47 L201.70 221.96 L202.20 221.45 L202.70 220.94 L203.20 220.41 L203.70 219.88 L204.20 219.34 L204.70 218.79 L205.20 218.23 L205.70 217.67 L206.20 217.09 L206.70 216.51 L207.20 215.92 L207.70 215.33 L208.20 214.72 L208.70 214.11 L209.20 213.48 L209.70 212.85 L210.20 212.21 L210.70 211.57 L211.20 210.91 L211.70 210.25 L212.20 209.57 L212.70 208.89 L213.20 208.20 L213.70 207.51 L214.20 206.80 L214.70 206.09 L215.20 205.37 L215.70 204.64 L216.20 203.90 L216.70 203.16 L217.20 202.40 L217.70 201.64 L218.20 200.88 L218.70 200.10 L219.20 199.32 L219.70 198.54 L220.20 197.74 L220.70 196.95 L221.20 196.14 L221.70 195.33 L222.20 194.52 L222.70 193.70 L223.20 192.87 L223.70 192.05 L224.20 191.21 L224.70 190.38 L225.20 189.54 L225.70 188.70 L226.20 187.86 L226.70 187.02 L227.20 186.18 L227.70 185.34 L228.20 184.50 L228.70 183.66 L229.20 182.82 L229.70 181.99 L230.20 181.15 L230.70 180.33 L231.20 179.50 L231.70 178.69 L232.20 177.88 L232.70 177.07 L233.20 176.28 L233.70 175.49 L234.20 174.71 L234.70 173.94 L235.20 173.19 L235.70 172.44 L236.20 171.71 L236.70 171.00 L237.20 170.29 L237.70 169.60 L238.20 168.93 L238.70 168.28 L239.20 167.64 L239.70 167.02 L240.20 166.42 L240.70 165.84 L241.20 165.28 L241.70 164.74 L242.20 164.23 L242.70 163.73 L243.20 163.26 L243.70 162.81 L244.20 162.38 L244.70 161.98 L245.20 161.60 L245.70 161.25 L246.20 160.92 L246.70 160.62 L247.20 160.34 L247.70 160.08 L248.20 159.85 L248.70 159.64 L249.20 159.46 L249.70 159.30 L250.20 159.17 L250.70 159.05 L251.20 158.96 L251.70 158.89 L252.20 158.85 L252.70 158.82 L253.20 158.81 L253.70 158.82 L254.20 158.84 L254.70 158.89 L255.20 158.95 L255.70 159.02 L256.20 159.10 L256.70 159.20 L257.20 159.30 L257.70 159.42 L258.20 159.54 L258.70 159.66 L259.20 159.79 L259.70 159.92 L260.20 160.05 L260.70 160.18 L261.20 160.30 L261.70 160.42 L262.20 160.53 L262.70 160.62 L263.20 160.71 L263.70 160.78 L264.20 160.83 L264.70 160.86 L265.20 160.86 L265.70 160.84 L266.20 160.79 L266.70 160.71 L267.20 160.59 L267.70 160.43 L268.20 160.22 L268.70 159.98 L269.20 159.68 L269.70 159.32 L270.20 158.91 L270.70 158.43 L271.20 157.89 L271.70 157.27 L272.20 156.58 L272.70 155.80 L273.20 154.93 L273.70 153.97 L274.20 152.91 L274.70 151.75 L275.20 150.47 L275.70 149.08 L276.20 147.56 L276.70 145.90 L277.20 144.12 L277.70 142.18 L278.20 140.10 L278.70 137.86 L279.20 135.45 L279.70 132.88 L280.20 130.13 L280.70 127.20 L281.20 124.09 L281.70 120.79 L282.20 117.31 L282.70 113.65 L283.20 109.81 L283.70 105.80 L284.20 101.63 L284.70 97.32 L285.20 92.88 L285.70 88.35 L286.20 83.75 L286.70 79.12 L287.20 74.52 L287.70 69.99 L288.20 65.59 L288.70 61.38 L289.20 57.44 L289.70 53.84 L290.20 50.65 L290.70 47.94 L291.20 45.77 L291.70 44.22 L292.20 43.31 L292.70 43.09 L293.20 43.57 L293.70 44.76 L294.20 46.64 L294.70 49.18 L295.20 52.34 L295.70 56.06 L296.20 60.27 L296.70 64.91 L297.20 69.90 L297.70 75.17 L298.20 80.65 L298.70 86.28 L299.20 91.99 L299.70 97.73 L300.20 103.46 L300.70 109.13 L301.20 114.71 L301.70 120.17 L302.20 125.49 L302.70 130.66 L303.20 135.66 L303.70 140.49 L304.20 145.13 L304.70 149.59 L305.20 153.87 L305.70 157.97 L306.20 161.88 L306.70 165.63 L307.20 169.20 L307.70 172.61 L308.20 175.86 L308.70 178.96 L309.20 181.91 L309.70 184.73 L310.20 187.41 L310.70 189.96 L311.20 192.40 L311.70 194.72 L312.20 196.93 L312.70 199.03 L313.20 201.04 L313.70 202.96 L314.20 204.79 L314.70 206.54 L315.20 208.21 L315.70 209.81 L316.20 211.33 L316.70 212.80 L317.20 214.19 L317.70 215.54 L318.20 216.82 L318.70 218.05 L319.20 219.24 L319.70 220.37 L320.20 221.47 L320.70 222.52 L321.20 223.53 L321.70 224.51 L322.20 225.44 L322.70 226.35 L323.20 227.23 L323.70 228.07 L324.20 228.89 L324.70 229.67 L325.20 230.44 L325.70 231.18 L326.20 231.89 L326.70 232.58 L327.20 233.26 L327.70 233.91 L328.20 234.54 L328.70 235.16 L329.20 235.75 L329.70 236.33 L330.20 236.90 L330.70 237.44 L331.20 237.98 L331.70 238.50 L332.20 239.00 L332.70 239.50 L333.20 239.98 L333.70 240.44 L334.20 240.90 L334.70 241.35 L335.20 241.78 L335.70 242.21 L336.20 242.62 L336.70 243.03 L337.20 243.42 L337.70 243.81 L338.20 244.19 L338.70 244.56 L339.20 244.92 L339.70 245.27 L340.20 245.62 L340.70 245.96 L341.20 246.29 L341.70 246.62 L342.20 246.93 L342.70 247.25 L343.20 247.55 L343.70 247.85 L344.20 248.15 L344.70 248.44 L345.20 248.72 L345.70 249.00 L346.20 249.27 L346.70 249.54 L347.20 249.80 L347.70 250.06 L348.20 250.31 L348.70 250.56 L349.20 250.80 L349.70 251.04 L350.20 251.28 L350.70 251.51 L351.20 251.74 L351.70 251.97 L352.20 252.19 L352.70 252.40 L353.20 252.62 L353.70 252.83 L354.20 253.03 L354.70 253.24 L355.20 253.44 L355.70 253.64 L356.20 253.83 L356.70 254.02 L357.20 254.21 L357.70 254.40 L358.20 254.58 L358.70 254.76 L359.20 254.94 L359.70 255.11 L360.20 255.28 L360.70 255.45 L361.20 255.62 L361.70 255.79 L362.20 255.95 L362.70 256.11 L363.20 256.27 L363.70 256.43 L364.20 256.58 L364.70 256.73 L365.20 256.88 L365.70 257.03 L366.20 257.18 L366.70 257.32 L367.20 257.47 L367.70 257.61 L368.20 257.75 L368.70 257.88 L369.20 258.02 L369.70 258.15 L370.20 258.29 L370.70 258.42 L371.20 258.55 L371.70 258.68 L372.20 258.80 L372.70 258.93 L373.20 259.05 L373.70 259.17 L374.20 259.29 L374.70 259.41 L375.20 259.53 L375.70 259.65 L376.20 259.76 L376.70 259.87 L377.20 259.99 L377.70 260.10 L378.20 260.21 L378.70 260.32 L379.20 260.43 L379.70 260.53 L380.20 260.64 L380.70 260.74 L381.20 260.85 L381.70 260.95 L382.20 261.05 L382.70 261.15 L383.20 261.25 L383.70 261.35 L384.20 261.45 L384.70 261.54 L385.20 261.64 L385.70 261.73 L386.20 261.82 L386.70 261.92 L387.20 262.01 L387.70 262.10 L388.20 262.19 L388.70 262.28 L389.20 262.37 L389.70 262.45 L390.20 262.54 L390.70 262.63 L391.20 262.71 L391.70 262.80 L392.20 262.88 L392.70 262.96 L393.20 263.05 L393.70 263.13 L394.20 263.21 L394.70 263.29 L395.20 263.37 L395.70 263.45 L396.20 263.52 L396.70 263.60 L397.20 263.68 L397.70 263.75 L398.20 263.83 L398.70 263.90 L399.20 263.98 L399.70 264.05 L400.20 264.12 L400.70 264.20 L401.20 264.27 L401.70 264.34 L402.20 264.41 L402.70 264.48 L403.20 264.55 L403.70 264.62 L404.20 264.69 L404.70 264.75 L405.20 264.82 L405.70 264.89 L406.20 264.95 L406.70 265.02 L407.20 265.09 L407.70 265.15 L408.20 265.22 L408.70 265.28 L409.20 265.34 L409.70 265.41 L410.20 265.47 L410.70 265.53 L411.20 265.59 L411.70 265.65 L412.20 265.71 L412.70 265.77 L413.20 265.83 L413.70 265.89 L414.20 265.95 L414.70 266.01 L415.20 266.07 L415.70 266.13 L416.20 266.18 L416.70 266.24 L417.20 266.30 L417.70 266.36 L418.20 266.41 L418.70 266.47 L419.20 266.52 L419.70 266.58 L420.20 266.63 L420.70 266.69 L421.20 266.74 L421.70 266.79 L422.20 266.85 L422.70 266.90 L423.20 266.95 L423.70 267.00 L424.20 267.06 L424.70 267.11 L425.20 267.16 L425.70 267.21 L426.20 267.26 L426.70 267.31 L427.20 267.36 L427.70 267.41 L428.20 267.46 L428.70 267.51 L429.20 267.56 L429.70 267.61 L430.20 267.65 L430.70 267.70 L431.20 267.75 L431.70 267.80 L432.20 267.85 L432.70 267.89 L433.20 267.94 L433.70 267.99 L434.20 268.03 L434.70 268.08 L435.20 268.12 L435.70 268.17 L436.20 268.21 L436.70 268.26 L437.20 268.30 L437.70 268.35 L438.20 268.39 L438.70 268.44 L439.20 268.48 L439.70 268.52 L440.20 268.57 L440.70 268.61 L441.20 268.65 L441.70 268.70 L442.20 268.74 L442.70 268.78 L443.20 268.82 L443.70 268.86 L444.20 268.91 L444.70 268.95 L445.20 268.99 L445.70 269.03 L446.20 269.07 L446.70 269.11 L447.20 269.15 L447.70 269.19 L448.20 269.23 L448.70 269.27 L449.20 269.31 L449.70 269.35 L450.20 269.39 L450.70 269.43 L451.20 269.47 L451.70 269.51 L452.20 269.55 L452.70 269.58 L453.20 269.62 L453.70 269.66 L454.20 269.70 L454.70 269.74 L455.20 269.77 L455.70 269.81 L456.20 269.85 L456.70 269.89 L457.20 269.92 L457.70 269.96 L458.20 270.00 L458.70 270.03 L459.20 270.07 L459.70 270.10 L460.20 270.14 L460.70 270.18 L461.20 270.21 L461.70 270.25 L462.20 270.28 L462.70 270.32 L463.20 270.35 L463.70 270.39 L464.20 270.42 L464.70 270.46 L465.20 270.49 L465.70 270.53 L466.20 270.56 L466.70 270.60 L467.20 270.63 L467.70 270.66 L468.20 270.70 L468.70 270.73 L469.20 270.76 L469.70 270.80 L470.20 270.83 L470.70 270.86 L471.20 270.90 L471.70 270.93 L472.20 270.96 L472.70 271.00 L473.20 271.03 L473.70 271.06 L474.20 271.09 L474.70 271.13 L475.20 271.16 L475.70 271.19 L476.20 271.22 L476.70 271.25 L477.20 271.28 L477.70 271.32 L478.20 271.35 L478.70 271.38 L479.20 271.41 L479.70 271.44 L480.20 271.47 L480.70 271.50 L481.20 271.53 L481.70 271.56 L482.20 271.59 L482.70 271.62 L483.20 271.65 L483.70 271.69 L484.20 271.72 L484.70 271.75 L485.20 271.78 L485.70 271.81" fill="none" stroke="#ff0000" stroke-width="1.22"/>
<path d="M63.80 290.80 L65.40 295.50 L66.90 283.20 L69.00 293.20 L70.90 285.50 L71.90 287.40 L72.80 283.80 L73.70 285.60 L74.80 282.00 L75.60 284.50 L76.60 280.60 L78.00 288.00 L79.20 284.20 L81.60 292.50 L84.50 266.90 L86.10 285.30 L87.10 279.10 L88.90 291.60 L90.70 290.00 L96.20 271.10 L97.90 276.50 L100.50 292.50 L102.10 271.10 L104.70 300.60 L106.20 310.60 L107.90 297.30 L110.60 282.90 L112.80 280.40 L115.60 298.50 L117.40 291.00 L118.70 290.60 L119.90 285.60 L122.40 295.10 L123.90 280.40 L125.50 276.70 L128.00 292.20 L129.30 280.40 L132.40 292.90 L133.60 294.10 L134.90 300.30 L136.50 289.10 L139.60 288.50 L141.60 301.30 L143.00 304.10 L145.10 287.90 L147.30 289.10 L150.10 297.90 L152.30 290.60 L153.90 290.40 L156.70 268.60 L158.20 272.30 L159.50 294.10 L161.10 291.60 L162.10 292.90 L163.60 284.20 L164.80 287.30 L167.70 277.70 L169.50 287.90 L170.50 287.60 L171.90 301.60 L173.30 278.50 L175.40 297.20 L177.30 291.60 L178.80 302.80 L181.00 290.40 L182.30 287.30 L184.50 276.10 L188.50 294.10 L190.10 295.40 L192.90 276.70 L194.10 291.00 L195.60 267.70 L197.90 282.90 L199.10 284.20 L201.10 306.60 L202.50 267.00 L205.30 290.40 L208.10 269.50 L212.20 296.00 L213.70 281.00 L215.90 291.60 L217.90 272.40 L222.10 308.00 L223.60 252.90 L224.70 272.60 L226.10 297.50 L227.40 280.40 L228.90 282.30 L230.10 298.60 L231.60 320.30 L233.50 290.90 L235.60 283.80 L236.90 295.20 L239.20 278.50 L240.30 280.40 L241.30 292.20 L244.10 268.10 L247.00 306.10 L249.80 259.10 L251.60 299.40 L253.10 289.00 L255.40 304.20 L258.20 278.50 L262.60 287.10 L263.90 280.40 L265.40 292.80 L268.00 284.00 L270.50 272.70 L272.10 304.80 L273.60 255.30 L275.50 278.30 L277.40 262.20 L279.20 306.40 L280.80 286.70 L282.40 294.80 L284.80 264.60 L287.70 294.20 L289.30 275.20 L290.40 316.60 L293.50 280.30 L296.40 313.50 L298.90 257.20 L300.10 259.00 L302.00 238.20 L303.60 297.00 L304.50 298.00 L306.30 281.70 L307.50 283.00 L312.60 321.00 L314.70 308.50 L317.50 317.90 L320.40 277.10 L323.20 299.80 L326.40 281.00 L328.50 294.70 L332.60 281.00 L334.10 280.40 L335.70 277.30 L337.20 287.30 L338.40 278.50 L340.40 296.00 L343.20 284.80 L345.40 281.70 L347.50 294.10 L349.60 287.90 L351.50 277.30 L353.10 284.80 L354.40 284.80 L357.10 294.10 L358.70 287.30 L360.00 287.30 L361.60 284.20 L364.30 291.60 L365.80 282.90 L369.30 287.30 L371.60 292.20 L373.10 285.40 L374.30 287.90 L377.40 283.50 L378.90 284.20 L381.80 271.70 L383.10 272.80 L385.60 286.60 L387.20 283.50 L388.70 289.80 L390.60 282.30 L393.10 276.10 L395.90 291.00 L398.90 275.40 L402.20 288.50 L404.90 282.30 L406.20 285.40 L408.60 280.40 L410.50 283.50 L413.00 276.70 L414.90 291.00 L417.70 269.20 L420.50 283.50 L423.60 276.70 L427.10 291.60 L429.20 280.40 L431.10 292.90 L434.80 284.80 L436.70 278.50 L438.50 292.20 L441.60 292.90 L443.70 286.60 L445.00 286.60 L447.00 281.00 L449.10 284.80 L450.90 281.70 L452.80 295.40 L454.10 287.30 L455.90 288.50 L458.20 287.30 L460.90 282.90 L462.40 294.70 L464.90 288.50 L468.60 287.30 L471.10 282.90 L474.60 289.10 L478.30 292.90 L480.20 282.90 L483.10 300.30 L484.60 282.30 L486.10 294.70" fill="none" stroke="#0000ff" stroke-width="1.22" stroke-linejoin="miter"/>
</g>
<path d="M365.50 30.90 l2.50 -2.50 l2.50 2.50 l-2.50 2.50 z" fill="none" stroke="#000" stroke-width="1.4" stroke-linejoin="round"/>
<line x1="360.7" y1="51.4" x2="374.2" y2="51.4" stroke="#009a00" stroke-width="1.4"/>
<line x1="360.7" y1="72" x2="374.2" y2="72" stroke="#ff0000" stroke-width="1.4"/>
<line x1="360.7" y1="93.4" x2="374.2" y2="93.4" stroke="#0000ff" stroke-width="1.4"/>
<path d="M63.5 6.5 H491.5 V322.5 H63.5 Z M73.50 322.5 v-6.5 M87.56 322.5 v-3.5 M87.56 6.5 v3.5 M101.62 322.5 v-3.5 M101.62 6.5 v3.5 M115.68 322.5 v-3.5 M115.68 6.5 v3.5 M129.74 322.5 v-3.5 M129.74 6.5 v3.5 M143.80 322.5 v-6.5 M143.80 6.5 v6.5 M157.86 322.5 v-3.5 M157.86 6.5 v3.5 M171.92 322.5 v-3.5 M171.92 6.5 v3.5 M185.98 322.5 v-3.5 M185.98 6.5 v3.5 M200.04 322.5 v-3.5 M200.04 6.5 v3.5 M214.10 322.5 v-6.5 M214.10 6.5 v6.5 M228.16 322.5 v-3.5 M228.16 6.5 v3.5 M242.22 322.5 v-3.5 M242.22 6.5 v3.5 M256.28 322.5 v-3.5 M256.28 6.5 v3.5 M270.34 322.5 v-3.5 M270.34 6.5 v3.5 M284.40 322.5 v-6.5 M284.40 6.5 v6.5 M298.46 322.5 v-3.5 M298.46 6.5 v3.5 M312.52 322.5 v-3.5 M312.52 6.5 v3.5 M326.58 322.5 v-3.5 M326.58 6.5 v3.5 M340.64 322.5 v-3.5 M340.64 6.5 v3.5 M354.70 322.5 v-6.5 M354.70 6.5 v6.5 M368.76 322.5 v-3.5 M368.76 6.5 v3.5 M382.82 322.5 v-3.5 M382.82 6.5 v3.5 M396.88 322.5 v-3.5 M396.88 6.5 v3.5 M410.94 322.5 v-3.5 M410.94 6.5 v3.5 M425.00 322.5 v-6.5 M425.00 6.5 v6.5 M439.06 322.5 v-3.5 M439.06 6.5 v3.5 M453.12 322.5 v-3.5 M453.12 6.5 v3.5 M467.18 322.5 v-3.5 M467.18 6.5 v3.5 M481.24 322.5 v-3.5 M481.24 6.5 v3.5 M63.5 14.30 h8.5 M491.5 14.30 h-8.5 M63.5 32.01 h4.5 M491.5 32.01 h-4.5 M63.5 49.71 h4.5 M491.5 49.71 h-4.5 M63.5 67.42 h4.5 M491.5 67.42 h-4.5 M63.5 85.12 h4.5 M491.5 85.12 h-4.5 M63.5 102.83 h8.5 M491.5 102.83 h-8.5 M63.5 120.54 h4.5 M491.5 120.54 h-4.5 M63.5 138.24 h4.5 M491.5 138.24 h-4.5 M63.5 155.95 h4.5 M491.5 155.95 h-4.5 M63.5 173.65 h4.5 M491.5 173.65 h-4.5 M63.5 191.36 h8.5 M491.5 191.36 h-8.5 M63.5 209.07 h4.5 M491.5 209.07 h-4.5 M63.5 226.77 h4.5 M491.5 226.77 h-4.5 M63.5 244.48 h4.5 M491.5 244.48 h-4.5 M63.5 262.18 h4.5 M491.5 262.18 h-4.5 M63.5 279.89 h8.5 M491.5 279.89 h-8.5 M63.5 297.60 h4.5 M491.5 297.60 h-4.5 M63.5 315.30 h4.5 M491.5 315.30 h-4.5" fill="none" stroke="#000" stroke-width="1"/>
</svg>
</body></html>
